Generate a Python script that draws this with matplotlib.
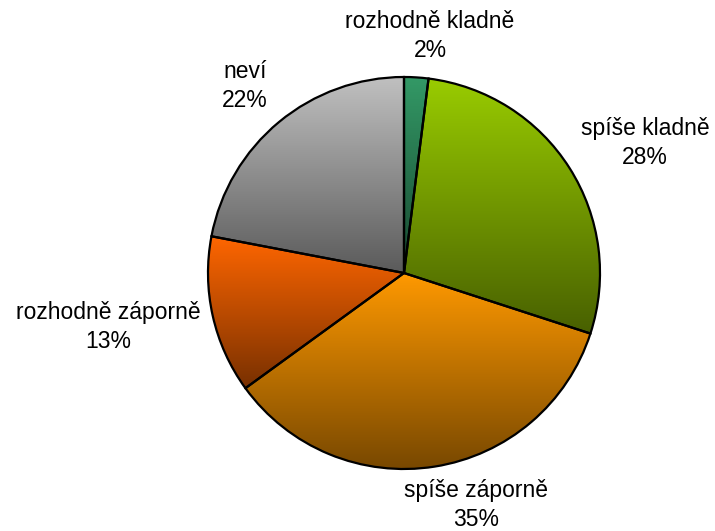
import numpy as np
import matplotlib
matplotlib.use("Agg")
import matplotlib.pyplot as plt
from matplotlib.colors import to_rgb

# slice data, clockwise from 12 o'clock
labels = ["rozhodně kladně", "spíše kladně", "spíše záporně", "rozhodně záporně", "neví"]
shares = [2, 28, 35, 13, 22]
top_colors = ["#339966", "#99cc00", "#ff9900", "#ff6600", "#c0c0c0"]

# label anchor points (pixels, y measured from bottom)
label_x = [430, 645, 476, 108, 245]
label_y = [495, 388, 26, 204, 445]

fig = plt.figure(figsize=(7.15, 5.31), dpi=100)
ax = fig.add_axes([0, 0, 1, 1])

wedges, _ = ax.pie(shares, startangle=90, counterclock=False,
                   center=(404, 258), radius=196,
                   wedgeprops=dict(edgecolor="black", linewidth=1.6))

# vertical gradient inside each slice: colour at top -> darker at bottom
for w, c in zip(wedges, top_colors):
    top = np.array(to_rgb(c))
    bottom = top * 0.47
    t = np.linspace(0, 1, 256)[:, None]
    grad = (top[None, :] * (1 - t) + bottom[None, :] * t)[:, None, :]
    ext = w.get_path().get_extents()
    im = ax.imshow(grad, extent=[ext.x0, ext.x1, ext.y0, ext.y1],
                   origin="upper", aspect="auto", zorder=1, interpolation="bilinear")
    im.set_clip_path(w)
    w.set_facecolor("none")
    w.set_zorder(3)

for lab, s, x, y in zip(labels, shares, label_x, label_y):
    ax.text(x, y, f"{lab}\n{s}%", ha="center", va="center", fontsize=16.5,
            family="Liberation Sans", linespacing=1.32)

ax.set_xlim(0, 715)
ax.set_ylim(0, 531)
ax.set_aspect("equal")
ax.axis("off")

plt.savefig("out.png", dpi=100)
